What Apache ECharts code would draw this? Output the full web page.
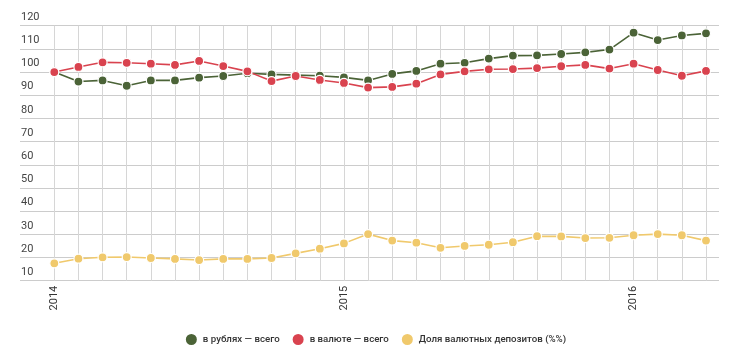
<!DOCTYPE html>
<html><head><meta charset="utf-8">
<script src="https://cdn.jsdelivr.net/npm/echarts@6/dist/echarts.min.js"></script>
<style>html,body{margin:0;padding:0;background:#fff}#c{width:750px;height:359px}</style>
</head><body><div id="c"></div>
<script>
const months = ['2014-01','2014-02','2014-03','2014-04','2014-05','2014-06','2014-07','2014-08','2014-09','2014-10','2014-11','2014-12',
'2015-01','2015-02','2015-03','2015-04','2015-05','2015-06','2015-07','2015-08','2015-09','2015-10','2015-11','2015-12',
'2016-01','2016-02','2016-03','2016-04'];
const rubles = [100,95.9,96.4,94.1,96.4,96.4,97.6,98.3,99.5,99.0,98.7,98.4,97.7,96.4,99.2,100.5,103.6,104.0,105.8,107.1,107.2,107.8,108.5,109.7,117.0,113.8,115.8,116.7];
const currency = [100,102.2,104.2,104.0,103.6,103.1,104.8,102.6,100.3,96.1,98.3,96.6,95.3,93.3,93.6,95.0,99.0,100.3,101.2,101.3,101.7,102.5,103.1,101.5,103.6,100.9,98.4,100.5];
const share = [17.5,19.5,20.1,20.2,19.8,19.4,18.9,19.4,19.4,19.8,21.8,23.8,26.1,30.1,27.3,26.4,24.2,25.0,25.5,26.6,29.2,29.1,28.4,28.5,29.6,30.1,29.6,27.3];
const seriesNames = ['в рублях — всего','в валюте — всего','Доля валютных депозитов (%%)'];
const colors = ['#4b6337','#d9434f','#f0c96c'];

const chart = echarts.init(document.getElementById('c'));
const gTop = 25.7, gBottom = 78.3;
function mk(name, data, color){
  return {name, type:'line', xAxisIndex:1, yAxisIndex:1, data, symbol:'circle', symbolSize:9,
    lineStyle:{color, width:1.6}, itemStyle:{color, borderColor:'#fff', borderWidth:1.2}, emphasis:{disabled:true}};
}
chart.setOption({
  animation:false,
  textStyle:{fontFamily:'Roboto, "Noto Sans", sans-serif'},
  grid:[{left:20, right:31, top:gTop, bottom:gBottom},{left:54.3, right:44, top:gTop, bottom:gBottom}],
  legend:{data:seriesNames, bottom:7, left:'center', icon:'circle', itemWidth:13, itemHeight:13, itemGap:11,
    textStyle:{fontSize:9.7, color:'#333', fontWeight:500}},
  xAxis:[
    {gridIndex:0, type:'category', data:months, show:false},
    {gridIndex:1, type:'category', data:months, boundaryGap:false,
      axisLine:{show:false}, axisTick:{show:false},
      splitLine:{show:true, interval:0, lineStyle:{color:'#d6d6d6', width:1}},
      axisLabel:{rotate:90, margin:5, fontSize:11, color:'#333',
        interval:(i)=> i%12===0, formatter:(v)=> v.slice(0,4)}}
  ],
  yAxis:[
    {gridIndex:0, type:'value', min:10, max:120, interval:10,
      axisLine:{show:false}, axisTick:{show:false},
      splitLine:{lineStyle:{color:'#cccccc', width:1}},
      axisLabel:{inside:true, verticalAlign:'bottom', align:'left', margin:1, padding:[0,0,3,0], fontSize:11, color:'#444'}},
    {gridIndex:1, type:'value', min:10, max:120, interval:10, show:false}
  ],
  series:[mk(seriesNames[0], rubles, colors[0]), mk(seriesNames[1], currency, colors[1]), mk(seriesNames[2], share, colors[2]),
    {type:'line', xAxisIndex:0, yAxisIndex:0, data:[], silent:true}]
});
</script></body></html>
